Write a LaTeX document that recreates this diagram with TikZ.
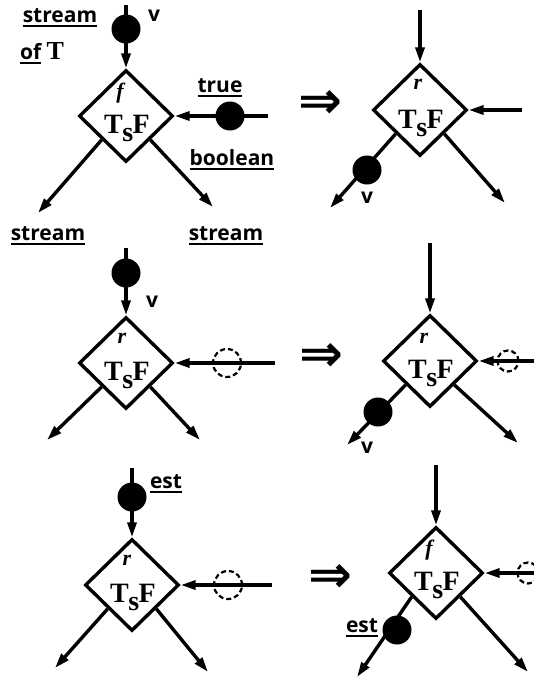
\documentclass[tikz,border=0pt]{standalone}
\usepackage{fontspec}
\setmainfont{Liberation Serif}
\newfontfamily\lab{Open Sans}
\newfontfamily\djv{DejaVu Sans}
\usetikzlibrary{shapes.geometric,arrows.meta}
\newcommand\myul[1]{\setbox0\hbox{#1}\leavevmode\rlap{\rule[-4.5pt]{\wd0}{2pt}}\box0}
\newcommand\TsF{T\kern-0.5pt\raisebox{-8pt}{s}\kern-0.5pt F}
\newcommand\impsym{\resizebox{44pt}{28pt}{\djv\bfseries ⇒}}
\begin{document}
\begin{tikzpicture}[x=1pt,y=-1pt,
 every path/.style={line width=3.4pt},
 gate/.style={diamond,draw,minimum width=94pt,minimum height=92pt,inner sep=0pt,line width=3.4pt},
 arr/.style={line width=3.4pt,-{Triangle[length=15pt,width=9pt]}},
 tok/.style={circle,fill=black,minimum size=29pt,inner sep=0pt},
 ghost/.style={circle,draw,line width=2.2pt,dash pattern=on 5pt off 3pt,minimum size=28pt,inner sep=0pt},
 smallghost/.style={ghost,minimum size=21pt},
 lbl/.style={font=\lab\bfseries\fontsize{21}{21}\selectfont,inner sep=0pt},
 tsf/.style={font=\bfseries\fontsize{28}{28}\selectfont,inner sep=0pt,anchor=base},
 sig/.style={font=\bfseries\itshape\fontsize{22}{22}\selectfont,inner sep=0pt},
 impl/.style={inner sep=0pt}]
\useasboundingbox (0,0) rectangle (534,683);

% ---------- panel 1 ----------
\node[gate] (g1) at (126,116) {};
\node[tsf] (t1) at (127,133) {\TsF};
\node[sig] (f1) at (120,93) {f};
\coordinate (i1) at (126,5);
\draw[arr] (i1) -- (g1.north);
\node[tok] (k1) at (126,29) {};
\node[lbl] (v1) at (154,16) {v};
\node[lbl] (s1) at (60,18) {\myul{stream}};
\node[lbl,anchor=base] (of1) at (42,59) {\myul{of}\ {\rmfamily\bfseries\fontsize{26}{26}\selectfont T}};
\coordinate (r1) at (268,116);
\draw[arr] (r1) -- (g1.east);
\node[tok] (k1b) at (230,116) {};
\node[lbl] (tr1) at (220,88) {\myul{true}};
\node[lbl] (b1) at (232,160) {\myul{boolean}};
\coordinate (o1a) at (38,213);
\coordinate (o1b) at (213,207);
\draw[arr] (g1.south west) -- (o1a);
\draw[arr] (g1.south east) -- (o1b);
\node[lbl] (s1a) at (48,236) {\myul{stream}};
\node[lbl] (s1b) at (226,236) {\myul{stream}};

\node[impl] (m1) at (320,104) {\impsym};

% ---------- panel 2 ----------
\node[gate] (g2) at (420,110) {};
\node[tsf] (t2) at (421,128) {\TsF};
\node[sig] (f2) at (418,84) {r};
\coordinate (i2) at (420,10);
\draw[arr] (i2) -- (g2.north);
\coordinate (r2) at (522,110);
\draw[arr] (r2) -- (g2.east);
\coordinate (o2a) at (330,208);
\coordinate (o2b) at (505,203);
\draw[arr] (g2.south west) -- (o2a);
\draw[arr] (g2.south east) -- (o2b);
\node[tok] (k2) at (367,170) {};
\node[lbl] (v2) at (367,198) {v};

% ---------- panel 3 ----------
\node[gate] (g3) at (126,363) {};
\node[tsf] (t3) at (127,380) {\TsF};
\node[sig] (f3) at (122,338) {r};
\coordinate (i3) at (126,248);
\draw[arr] (i3) -- (g3.north);
\node[tok] (k3) at (126,273) {};
\node[lbl] (v3) at (152,302) {v};
\coordinate (r3) at (275,363);
\draw[arr] (r3) -- (g3.east);
\node[ghost] (h3) at (227,363) {};
\coordinate (o3a) at (47,440);
\coordinate (o3b) at (200,440);
\draw[arr] (g3.south west) -- (o3a);
\draw[arr] (g3.south east) -- (o3b);

\node[impl] (m2) at (321,357) {\impsym};

% ---------- panel 4 ----------
\node[gate] (g4) at (430,361) {};
\node[tsf] (t4) at (431,378) {\TsF};
\node[sig] (f4) at (424,338) {r};
\coordinate (i4) at (430,243);
\draw[arr] (i4) -- (g4.north);
\coordinate (r4) at (536,361);
\draw[arr] (r4) -- (g4.east);
\node[smallghost] (h4) at (508,361) {};
\coordinate (o4a) at (347,445);
\coordinate (o4b) at (518,443);
\draw[arr] (g4.south west) -- (o4a);
\draw[arr] (g4.south east) -- (o4b);
\node[tok] (k4) at (378,412) {};
\node[lbl] (v4) at (367,448) {v};

% ---------- panel 5 ----------
\node[gate] (g5) at (132,585) {};
\node[tsf] (t5) at (133,602) {\TsF};
\node[sig] (f5) at (127,560) {r};
\coordinate (i5) at (132,468);
\draw[arr] (i5) -- (g5.north);
\node[tok] (k5) at (132,497) {};
\node[lbl] (e5) at (166,484) {\myul{est}};
\coordinate (r5) at (272,585);
\draw[arr] (r5) -- (g5.east);
\node[ghost] (h5) at (228,585) {};
\coordinate (o5a) at (55,668);
\coordinate (o5b) at (208,672);
\draw[arr] (g5.south west) -- (o5a);
\draw[arr] (g5.south east) -- (o5b);

\node[impl] (m3) at (330,578) {\impsym};

% ---------- panel 6 ----------
\node[gate] (g6) at (436,573) {};
\node[tsf] (t6) at (437,590) {\TsF};
\node[sig] (f6) at (429,550) {f};
\coordinate (i6) at (436,465);
\draw[arr] (i6) -- (g6.north);
\coordinate (r6) at (545,573);
\draw[arr] (r6) -- (g6.east);
\node[smallghost] (h6) at (528,573) {};
\coordinate (o6a) at (357,677);
\coordinate (o6b) at (528,672);
\draw[arr] (g6.south west) -- (o6a);
\draw[arr] (g6.south east) -- (o6b);
\node[tok] (k6) at (397,630) {};
\node[lbl] (e6) at (362,628) {\myul{est}};
\end{tikzpicture}
\end{document}
